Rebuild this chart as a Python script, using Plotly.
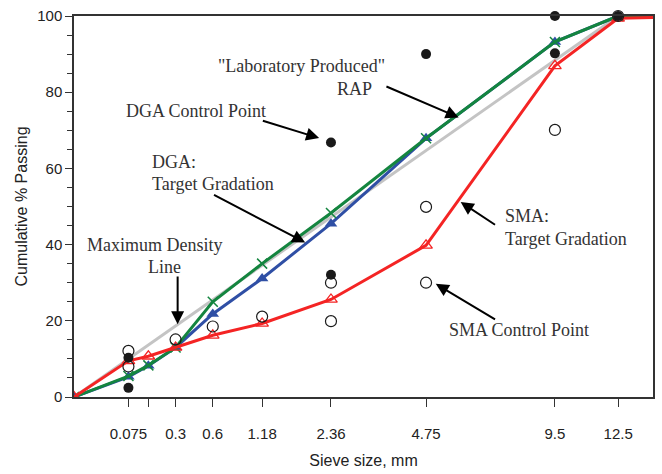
import numpy as np
import plotly.graph_objects as go

POW = 0.45
sieves = [0, 0.075, 0.15, 0.3, 0.6, 1.18, 2.36, 4.75, 9.5, 12.5, 19]
tick_sieves = [0.075, 0.15, 0.3, 0.6, 1.18, 2.36, 4.75, 9.5, 12.5]
tick_labels = ["0.075", "", "0.3", "0.6", "1.18", "2.36", "4.75", "9.5", "12.5"]

dga_target = [0, 5.3, 8.2, 13, 21.8, 31.1, 45.5, 67.9, 93.2, 100, 100]
lab_rap = [0, 5.5, 8.3, 13, 25, 35, 48.3, 67.9, 93.2, 100, 100]
sma_target = [0, 9.5, 10.7, 13, 16.2, 19.3, 25.6, 39.8, 86.9, 99.4, 100]

mdl_sieves = [0, 12.5]
mdl_values = [0, 100]

dga_cp_sieves = [0.075, 0.075, 2.36, 2.36, 4.75, 9.5, 9.5, 12.5]
dga_cp_values = [2.4, 10.3, 66.8, 32.1, 90, 100, 90.2, 100]

sma_cp_sieves = [0.075, 0.075, 0.3, 0.6, 1.18, 2.36, 2.36, 4.75, 4.75, 9.5, 12.5]
sma_cp_values = [12.1, 8.0, 15.1, 18.5, 21.1, 30, 19.9, 49.9, 30, 70.1, 100]

XMAX_SIEVE = 14.35


def tx(v):
    return np.power(np.asarray(v, dtype=float), POW)


xmax = float(tx(XMAX_SIEVE))
L, R, T, B = 74, 655, 14, 401


def px2x(px):
    return (px - L) / (R - L) * xmax


def py2y(py):
    return (B - py) / (B - T) * 100


fig = go.Figure()
fig.add_trace(go.Scatter(x=tx(mdl_sieves), y=mdl_values, mode="lines",
                         line=dict(color="#c4c4c4", width=3), cliponaxis=False,
                         name="Maximum Density Line"))
fig.add_trace(go.Scatter(x=tx(sieves), y=dga_target, mode="lines+markers",
                         line=dict(color="#2f4fa5", width=3),
                         marker=dict(symbol="triangle-up", size=11, color="#2f4fa5"),
                         cliponaxis=True, name="DGA Target"))
fig.add_trace(go.Scatter(x=tx(sieves), y=lab_rap, mode="lines+markers",
                         line=dict(color="#14853f", width=3),
                         marker=dict(symbol="x-thin", size=10,
                                     line=dict(color="#14853f", width=1.5)),
                         cliponaxis=True, name="Lab RAP"))
fig.add_trace(go.Scatter(x=tx(sieves), y=sma_target, mode="lines+markers",
                         line=dict(color="#f42424", width=3),
                         marker=dict(symbol="triangle-up-open", size=11, color="#f42424",
                                     line=dict(width=1.3)),
                         cliponaxis=True, name="SMA Target"))
fig.add_trace(go.Scatter(x=tx(dga_cp_sieves), y=dga_cp_values, mode="markers",
                         marker=dict(symbol="circle", size=10, color="#1a1a1a"),
                         cliponaxis=False, name="DGA Control Point"))
fig.add_trace(go.Scatter(x=tx(sma_cp_sieves), y=sma_cp_values, mode="markers",
                         marker=dict(symbol="circle-open", size=11, color="#1a1a1a",
                                     line=dict(width=1.2)),
                         cliponaxis=False, name="SMA Control Point"))

SERIF = "Liberation Serif"
texts = [
    ('"Laboratory Produced"', 302, 65, "center"),
    ("RAP", 355, 88, "center"),
    ("DGA Control Point", 196, 110, "center"),
    ("DGA:", 150, 162, "left"),
    ("Target Gradation", 150, 185, "left"),
    ("Maximum Density", 155, 247, "center"),
    ("Line", 165, 269, "center"),
    ("SMA:", 504, 217, "left"),
    ("Target Gradation", 504, 240, "left"),
    ("SMA Control Point", 521, 333, "center"),
]
for t, px, py, anc in texts:
    fig.add_annotation(x=px2x(px), y=py2y(py), text=t, showarrow=False,
                       xanchor=anc, yanchor="middle",
                       font=dict(family=SERIF, size=18, color="#333333"))

arrows = [
    ((386, 85), (460, 117)),
    ((262, 120), (320, 138)),
    ((213, 195), (306, 244)),
    ((178, 277), (178, 327)),
    ((498, 227), (462, 203)),
    ((498, 323), (437, 286)),
]
for (tx0, ty0), (hx, hy) in arrows:
    fig.add_annotation(x=px2x(hx), y=py2y(hy), ax=px2x(tx0), ay=py2y(ty0),
                       axref="x", ayref="y", xref="x", yref="y", text="",
                       showarrow=True, arrowhead=2, arrowsize=1.3, arrowwidth=2,
                       arrowcolor="black", standoff=0, startstandoff=0)

fig.update_layout(
    width=662, height=474,
    margin=dict(l=L, r=662 - R, t=T, b=474 - B),
    paper_bgcolor="white", plot_bgcolor="white",
    showlegend=False,
    font=dict(family="Liberation Sans", size=15, color="#222222"),
)
fig.update_xaxes(
    range=[0, xmax], tickvals=tx(tick_sieves), ticktext=tick_labels,
    ticks="outside", ticklen=8, tickwidth=1, tickcolor="#333333",
    ticklabelstandoff=14,
    showline=True, linecolor="#333333", linewidth=1.5, mirror=True,
    showgrid=False, zeroline=False,
    title=dict(text="Sieve size, mm", standoff=14, font=dict(size=16)),
)
fig.update_yaxes(
    range=[0, 100], tickvals=[0, 20, 40, 60, 80, 100],
    ticks="outside", ticklen=7, tickwidth=1, tickcolor="#333333",
    minor=dict(dtick=5, ticks="outside", ticklen=5, tickcolor="#333333"),
    showline=True, linecolor="#333333", linewidth=1.5, mirror=True,
    showgrid=False, zeroline=False,
    title=dict(text="Cumulative % Passing", standoff=6, font=dict(size=16)),
)

fig.write_html("out.html")
